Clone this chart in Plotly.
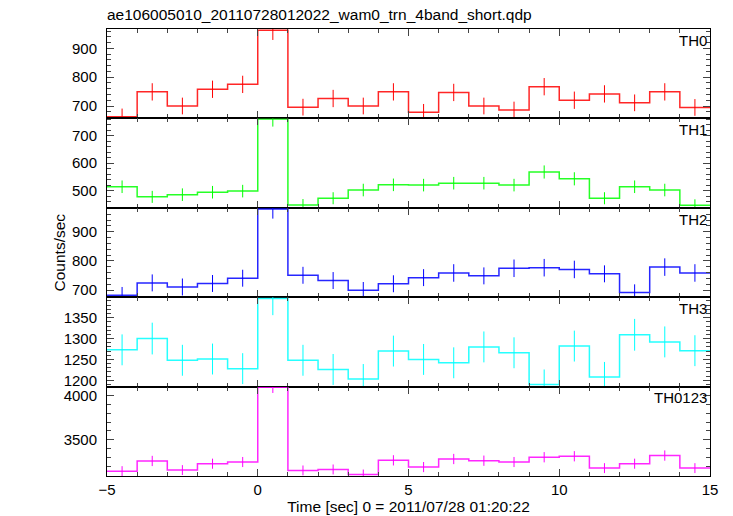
import plotly.graph_objects as go
from plotly.subplots import make_subplots

# Bin edges (sec) and centres
bin_edges = [-5, -4, -3, -2, -1, 0, 1, 2, 3, 4, 5, 6, 7, 8, 9, 10, 11, 12, 13, 14, 15]
bin_centers = [-4.5, -3.5, -2.5, -1.5, -0.5, 0.5, 1.5, 2.5, 3.5, 4.5, 5.5, 6.5, 7.5, 8.5, 9.5, 10.5, 11.5, 12.5, 13.5, 14.5]

th0 = [663, 749, 700, 758, 775, 963, 696, 726, 700, 749, 678, 747, 700, 686, 767, 720, 742, 711, 749, 695]
th0_err = [28, 30, 29, 30, 30, 34, 29, 30, 29, 30, 29, 30, 29, 29, 30, 30, 30, 29, 30, 29]

th1 = [514, 477, 485, 494, 498, 762, 447, 472, 502, 521, 520, 527, 527, 520, 568, 543, 472, 514, 502, 446]
th1_err = [23, 22, 23, 23, 23, 28, 22, 22, 23, 23, 23, 23, 23, 23, 24, 24, 22, 23, 23, 22]

th2 = [683, 725, 711, 723, 741, 978, 751, 733, 700, 722, 743, 759, 749, 775, 777, 771, 756, 692, 779, 759]
th2_err = [28, 29, 29, 29, 29, 33, 29, 29, 28, 29, 29, 30, 29, 30, 30, 30, 29, 28, 30, 30]

th3 = [1273, 1300, 1248, 1251, 1228, 1396, 1248, 1226, 1203, 1270, 1250, 1242, 1280, 1266, 1190, 1282, 1208, 1309, 1292, 1271]
th3_err = [37, 38, 37, 37, 37, 40, 37, 37, 36, 37, 37, 37, 37, 37, 36, 37, 36, 38, 37, 37]

th0123 = [3145, 3260, 3157, 3229, 3248, 4092, 3153, 3164, 3107, 3267, 3191, 3282, 3263, 3248, 3302, 3313, 3179, 3229, 3321, 3179]
th0123_err = [56, 58, 56, 57, 57, 64, 56, 56, 56, 58, 57, 58, 58, 57, 58, 58, 56, 57, 58, 56]

panel_names = ["TH0", "TH1", "TH2", "TH3", "TH0123"]
panel_values = [th0, th1, th2, th3, th0123]
panel_errors = [th0_err, th1_err, th2_err, th3_err, th0123_err]
panel_colors = ["#ff0000", "#00ff00", "#0000ff", "#00ffff", "#ff00ff"]
panel_ranges = [[657, 967], [437, 764], [676, 982], [1185, 1399], [3090, 4100]]
panel_dtick = [100, 100, 100, 50, 500]
panel_minor = [20, 20, 20, 10, 100]

title_text = "ae106005010_20110728012022_wam0_trn_4band_short.qdp"
x_title = "Time [sec] 0 = 2011/07/28 01:20:22"
y_title = "Counts/sec"

font_family = "Liberation Sans, Arial, Helvetica, sans-serif"

fig = make_subplots(rows=5, cols=1, shared_xaxes=True, vertical_spacing=0)

for i, (name, vals, errs, col) in enumerate(zip(panel_names, panel_values, panel_errors, panel_colors)):
    r = i + 1
    step_x = list(bin_edges)
    step_y = list(vals) + [vals[-1]]
    fig.add_trace(go.Scatter(x=step_x, y=step_y, mode="lines", line=dict(color=col, width=1.5, shape="hv"),
                             opacity=0.85, showlegend=False, hoverinfo="skip"), row=r, col=1)
    fig.add_trace(go.Scatter(x=bin_centers, y=vals, mode="markers", marker=dict(size=0.1, color=col, opacity=0),
                             error_y=dict(type="data", array=errs, visible=True, color=col, thickness=1, width=0),
                             showlegend=False, name=name), row=r, col=1)
    fig.update_yaxes(range=panel_ranges[i], dtick=panel_dtick[i], ticks="inside", ticklen=7, tickwidth=1,
                     tickcolor="#444", minor=dict(dtick=panel_minor[i], ticks="inside", ticklen=4, tickcolor="#444"),
                     showline=True, linecolor="black", linewidth=1, mirror="ticks", showgrid=False, zeroline=False,
                     ticklabelstandoff=6, automargin=False,
                     tickfont=dict(size=15, color="black", family=font_family), row=r, col=1)
    fig.update_xaxes(range=[-5, 15], dtick=5, ticks="inside", ticklen=7, tickwidth=1, tickcolor="#444",
                     minor=dict(dtick=1, ticks="inside", ticklen=4, tickcolor="#444"),
                     showline=True, linecolor="black", linewidth=1, mirror="ticks", showgrid=False, zeroline=False,
                     automargin=False,
                     tickfont=dict(size=15, color="black", family=font_family), row=r, col=1)
    yref = "y domain" if r == 1 else f"y{r} domain"
    xref = "x domain" if r == 1 else f"x{r} domain"
    fig.add_annotation(text=name, xref=xref, yref=yref, x=0.998, y=0.99, xanchor="right", yanchor="top",
                       showarrow=False, font=dict(size=15, color="black", family=font_family))

fig.update_xaxes(title=dict(text=x_title, font=dict(size=15.5, color="black", family=font_family), standoff=2), row=5, col=1)

fig.add_annotation(text=y_title, xref="paper", yref="paper", x=-0.078, y=0.5, xanchor="center", yanchor="middle",
                   textangle=-90, showarrow=False, font=dict(size=15.5, color="black", family=font_family))

fig.update_layout(
    width=733, height=516,
    margin=dict(l=107, r=23, t=29, b=40),
    paper_bgcolor="white", plot_bgcolor="white",
    title=dict(text=title_text, x=107 / 733, xanchor="left", y=1 - 15 / 516, yanchor="middle",
               font=dict(size=15.5, color="black", family=font_family)),
    font=dict(family=font_family, color="black"),
    showlegend=False,
)

fig.write_html("out.html", config={"displayModeBar": False},
               post_script="document.body.style.margin='0px';")
